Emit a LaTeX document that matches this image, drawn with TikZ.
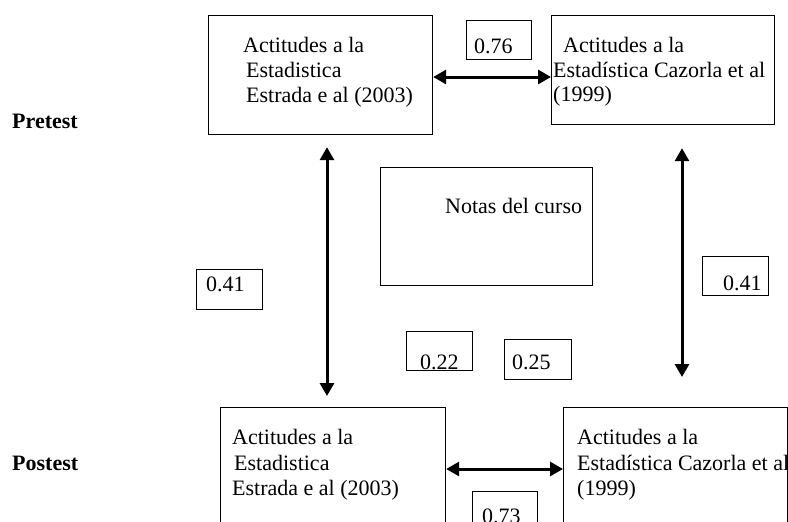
\documentclass[tikz,border=0pt]{standalone}
\usepackage{fontspec}
\setmainfont{Liberation Serif}
\usetikzlibrary{arrows.meta}
\begin{document}
\begin{tikzpicture}[x=1pt,y=-1pt,
  box/.style={draw,line width=1.2pt,rectangle,inner sep=0pt,anchor=north west},
  txt/.style={anchor=base west,inner sep=0pt,font=\fontsize{22}{25}\selectfont},
  lbl/.style={txt,font=\fontsize{22}{25}\selectfont\bfseries},
  arr/.style={line width=3pt,{Triangle[length=13pt,width=14pt]}-{Triangle[length=13pt,width=14pt]}},
]
\useasboundingbox (0,0) rectangle (788,522);
\clip (0,0) rectangle (788,522);
\fill[white] (0,0) rectangle (788,522);

% large boxes
\node[box,minimum width=224pt,minimum height=119pt] (tl) at (208,15) {};
\node[box,minimum width=223pt,minimum height=109pt] (tr) at (551,15) {};
\node[box,minimum width=212pt,minimum height=118pt] (nc) at (380,167) {};
\node[box,minimum width=225pt,minimum height=140pt] (bl) at (220,407) {};
\node[box,minimum width=224pt,minimum height=140pt] (br) at (563,407) {};

% small value boxes
\node[box,minimum width=65pt,minimum height=39pt] (b76) at (466,20) {};
\node[box,minimum width=66pt,minimum height=40pt] (b41l) at (196,269) {};
\node[box,minimum width=66pt,minimum height=39pt] (b22) at (406,331) {};
\node[box,minimum width=67pt,minimum height=40pt] (b25) at (504,339) {};
\node[box,minimum width=66pt,minimum height=39pt] (b41r) at (702,256) {};
\node[box,minimum width=65pt,minimum height=50pt] (b73) at (472,491) {};

% texts
\node[lbl] (pre) at (12,128) {Pretest};
\node[lbl] (post) at (12,470) {Postest};

\node[txt] (tl1) at (243,52) {Actitudes a la};
\node[txt] (tl2) at (246,77) {Estadistica};
\node[txt] (tl3) at (246,102) {Estrada e al (2003)};

\node[txt] (tr1) at (563,52) {Actitudes a la};
\node[txt] (tr2) at (553,77) {Estadística Cazorla et al};
\node[txt] (tr3) at (553,101) {(1999)};

\node[txt] (nct) at (445,213) {Notas del curso};

\node[txt] (bl1) at (232,444) {Actitudes a la};
\node[txt] (bl2) at (234,470) {Estadistica};
\node[txt] (bl3) at (232,495) {Estrada e al (2003)};

\node[txt] (br1) at (577,444) {Actitudes a la};
\node[txt] (br2) at (577,470) {Estadística Cazorla et al};
\node[txt] (br3) at (577,495) {(1999)};

\node[txt] (v76) at (474,53) {0.76};
\node[txt] (v41l) at (206,291) {0.41};
\node[txt] (v22) at (420,369) {0.22};
\node[txt] (v25) at (512,369) {0.25};
\node[txt] (v41r) at (723,290) {0.41};
\node[txt] (v73) at (482,523) {0.73};

% connectors
\coordinate (yt) at (0,77);
\coordinate (yb) at (0,469);
\coordinate (xl) at (327,0);
\coordinate (xr) at (682,0);
\draw[arr] (tl.east |- yt) -- (tr.west |- yt);
\draw[arr] (bl.east |- yb) -- (br.west |- yb);
\draw[arr,shorten <=12pt,shorten >=11pt] (tl.south -| xl) -- (bl.north -| xl);
\draw[arr,shorten <=23pt,shorten >=30pt] (tr.south -| xr) -- (br.north -| xr);
\end{tikzpicture}
\end{document}
